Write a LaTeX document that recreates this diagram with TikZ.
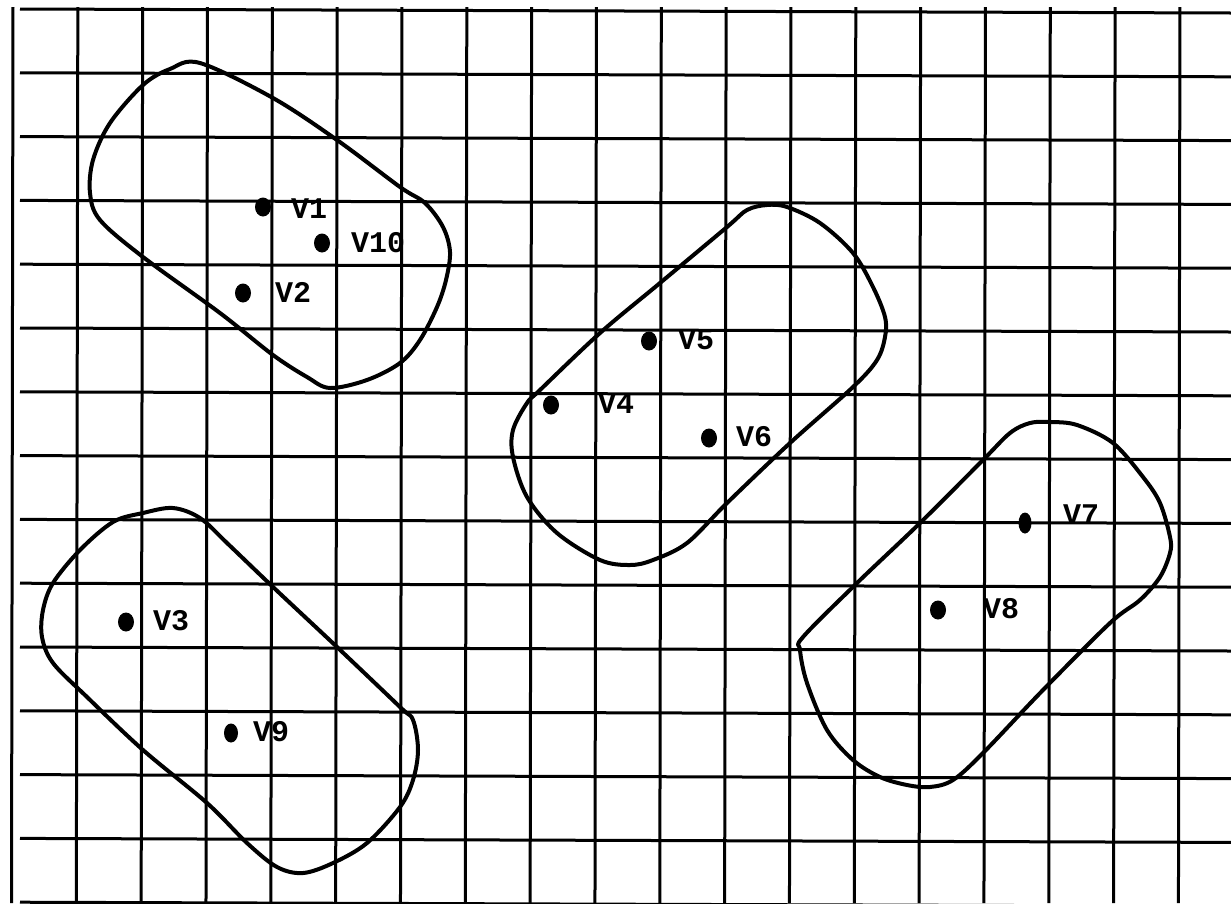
\documentclass[tikz,border=0pt]{standalone}
\usepackage{fontspec}
\newfontfamily\lblfont{Liberation Mono}
\usetikzlibrary{shapes.geometric}
\tikzset{
  gridline/.style={line width=3pt, black},
  blob/.style={line width=4pt, black, line join=round},
  vdot/.style={ellipse, fill=black, draw=none, minimum width=16pt, minimum height=19pt, inner sep=0pt},
  vlabel/.style={anchor=west, inner sep=0pt, font=\lblfont\bfseries\fontsize{30}{30}\selectfont, text height=16pt, text depth=0pt}
}
\begin{document}
\begin{tikzpicture}[x=1pt,y=-1pt]
\useasboundingbox[fill=white] (0,0) rectangle (1231,903);
% grid
\foreach \k in {0,...,18} {
  \pgfmathsetmacro\gx{13+64.83*\k}
  \draw[gridline] (\gx,7) -- (\gx-1.5,903);
}
\foreach \k in {0,...,14} {
  \pgfmathsetmacro\gy{9+63.8*\k}
  \draw[gridline] (20,\gy) -- (1231,\gy+4);
}
% blob 1
\draw[blob] plot[smooth cycle, tension=0.55] coordinates {
 (200,63) (273,98) (337,140) (400,187) (425,203) (443,227) (450,252) (446,280)
 (437,307) (420,340) (400,363) (367,380) (330,388) (307,377) (273,355) (220,313)
 (143,257) (100,220) (90,193) (93,160) (110,123) (143,85) (170,69)};
% blob 2
\draw[blob] plot[smooth cycle, tension=0.55] coordinates {
 (767,205) (787,207) (820,223) (853,253) (873,287) (885,317) (885,337) (877,360)
 (853,387) (790,443) (727,503) (687,543) (653,560) (630,565) (600,560) (557,533)
 (527,497) (513,457) (513,430) (527,403) (540,390) (600,333) (660,283) (727,227) (747,210)};
% blob 3
\draw[blob] plot[smooth cycle, tension=0.55] coordinates {
 (173,508) (200,518) (227,543) (273,587) (337,647) (400,707) (413,720) (418,750)
 (413,780) (400,807) (367,843) (333,863) (303,873) (277,867) (247,843) (207,803)
 (143,750) (87,697) (53,663) (42,637) (43,610) (53,583) (80,550) (113,522) (143,513)};
% blob 4
\draw[blob] plot[smooth cycle, tension=0.55] coordinates {
 (1050,422) (1077,425) (1113,443) (1143,477) (1160,503) (1170,537) (1170,553) (1160,577)
 (1140,600) (1110,623) (1043,690) (983,753) (953,780) (930,787) (907,785) (880,777)
 (853,760) (827,730) (807,683) (800,650) (803,637) (857,583) (920,523) (983,460) (1010,433) (1030,423)};
% vertices
\node[vdot] (v1) at (263,207) {};
\node[vdot] (v10) at (322,243) {};
\node[vdot] (v2) at (243,293) {};
\node[vdot] (v3) at (126,622) {};
\node[vdot, minimum width=14pt] (v9) at (231,733) {};
\node[vdot] (v4) at (551,405) {};
\node[vdot] (v5) at (649,341) {};
\node[vdot] (v6) at (709,438) {};
\node[vdot, minimum width=13pt, minimum height=21pt] (v7) at (1025,523) {};
\node[vdot] (v8) at (938,610) {};
% labels
\node[vlabel] (l1) at (291,210) {V1};
\node[vlabel] (l10) at (351,244) {V10};
\node[vlabel] (l2) at (275,294) {V2};
\node[vlabel] (l3) at (153,622) {V3};
\node[vlabel] (l9) at (253,733) {V9};
\node[vlabel] (l4) at (598,405) {V4};
\node[vlabel] (l5) at (678,341) {V5};
\node[vlabel] (l6) at (736,438) {V6};
\node[vlabel] (l7) at (1063,516) {V7};
\node[vlabel] (l8) at (983,610) {V8};
\end{tikzpicture}
\end{document}
